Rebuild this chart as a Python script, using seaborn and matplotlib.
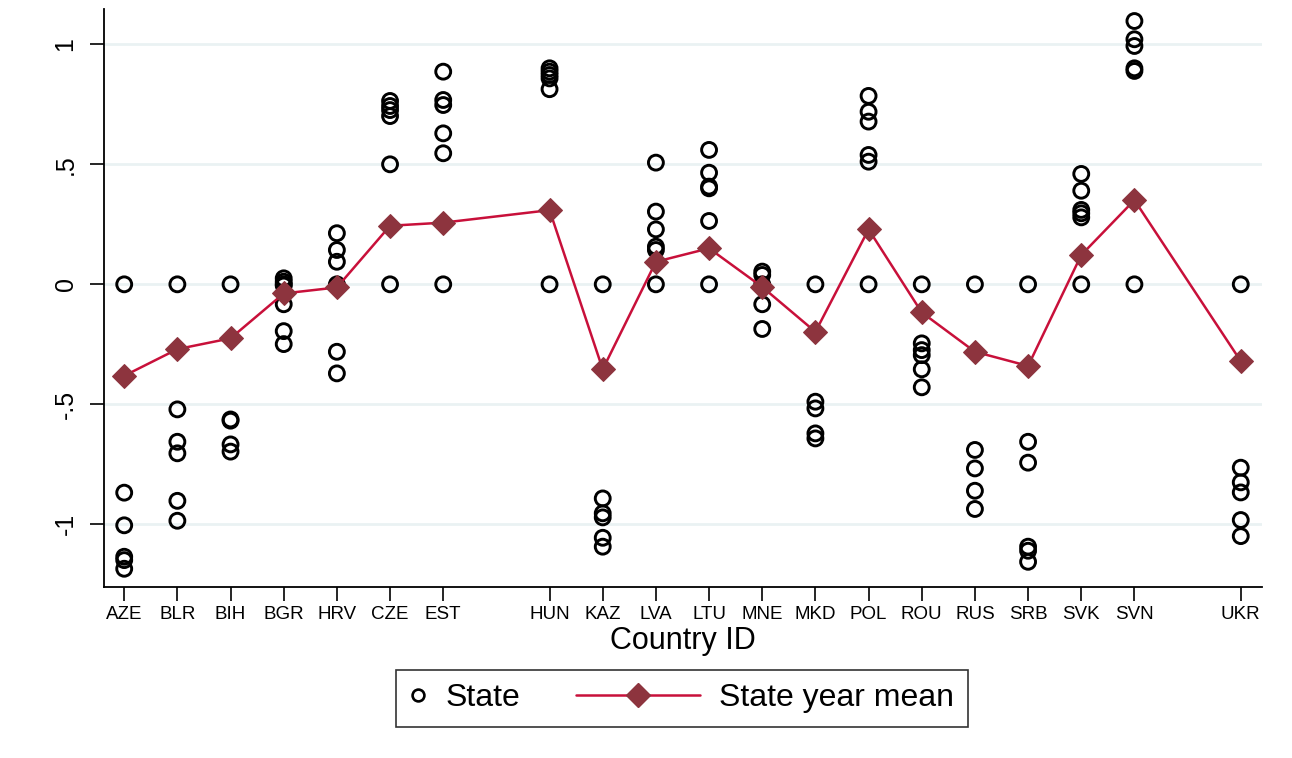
import numpy as np
import pandas as pd
import matplotlib
matplotlib.use("Agg")
import matplotlib.pyplot as plt
import seaborn as sns
from matplotlib.lines import Line2D
from matplotlib.legend_handler import HandlerLine2D

# Country codes and their numeric IDs (IDs 8 and 21 are absent)
countries = ["AZE", "BLR", "BIH", "BGR", "HRV", "CZE", "EST", "HUN", "KAZ", "LVA",
             "LTU", "MNE", "MKD", "POL", "ROU", "RUS", "SRB", "SVK", "SVN", "UKR"]
country_ids = [1, 2, 3, 4, 5, 6, 7, 9, 10, 11, 12, 13, 14, 15, 16, 17, 18, 19, 20, 22]

# State scores per country (several years each)
state_aze = [0.0, -0.868, -1.004, -1.135, -1.149, -1.185]
state_blr = [0.0, -0.521, -0.656, -0.704, -0.902, -0.985]
state_bih = [0.0, -0.563, -0.568, -0.667, -0.697]
state_bgr = [0.025, 0.011, 0.0, -0.005, -0.083, -0.195, -0.249]
state_hrv = [0.213, 0.143, 0.094, 0.0, -0.281, -0.371]
state_cze = [0.764, 0.743, 0.726, 0.701, 0.500, 0.0]
state_est = [0.886, 0.768, 0.747, 0.629, 0.546, 0.0]
state_hun = [0.900, 0.886, 0.872, 0.858, 0.813, 0.0]
state_kaz = [0.0, -0.892, -0.954, -0.971, -1.056, -1.093]
state_lva = [0.507, 0.303, 0.229, 0.157, 0.143, 0.0]
state_ltu = [0.560, 0.465, 0.407, 0.400, 0.264, 0.0]
state_mne = [0.053, 0.039, 0.0, -0.083, -0.186]
state_mkd = [0.0, -0.489, -0.517, -0.621, -0.642]
state_pol = [0.785, 0.719, 0.678, 0.539, 0.511, 0.0]
state_rou = [0.0, -0.246, -0.274, -0.295, -0.354, -0.429]
state_rus = [0.0, -0.690, -0.767, -0.860, -0.936]
state_srb = [0.0, -0.656, -0.743, -1.093, -1.110, -1.156]
state_svk = [0.460, 0.390, 0.310, 0.296, 0.279, 0.0]
state_svn = [1.097, 1.021, 0.993, 0.900, 0.889, 0.0]
state_ukr = [0.0, -0.764, -0.825, -0.867, -0.982, -1.049]

state_scores = [state_aze, state_blr, state_bih, state_bgr, state_hrv, state_cze,
                state_est, state_hun, state_kaz, state_lva, state_ltu, state_mne,
                state_mkd, state_pol, state_rou, state_rus, state_srb, state_svk,
                state_svn, state_ukr]

# Mean state score per country
state_year_mean = [-0.381, -0.270, -0.225, -0.038, -0.013, 0.244, 0.257, 0.309,
                   -0.354, 0.094, 0.150, -0.011, -0.198, 0.229, -0.117, -0.281,
                   -0.340, 0.122, 0.351, -0.320]

y_ticks = [-1, -0.5, 0, 0.5, 1]
y_tick_labels = ["-1", "-.5", "0", ".5", "1"]

# Long-format tables
points = pd.DataFrame({
    "country_id": np.repeat(country_ids, [len(s) for s in state_scores]),
    "state": np.concatenate(state_scores),
})
means = pd.DataFrame({"country_id": country_ids, "mean": state_year_mean})

sns.set_style("white")
plt.rcParams["font.family"] = ["Liberation Sans", "DejaVu Sans"]
plt.rcParams["text.color"] = "black"
plt.rcParams["axes.labelcolor"] = "black"
plt.rcParams["xtick.color"] = "black"
plt.rcParams["ytick.color"] = "black"


class CompactMarkerHandler(HandlerLine2D):
    """Legend handler whose key box is only as wide as the marker."""

    def __init__(self, width_frac=0.5, **kw):
        super().__init__(**kw)
        self.width_frac = width_frac

    def legend_artist(self, legend, orig_handle, fontsize, handlebox):
        handlebox.width = self.width_frac * fontsize
        return super().legend_artist(legend, orig_handle, fontsize, handlebox)


fig = plt.figure(figsize=(12.92, 7.58), dpi=100)
ax = fig.add_axes([0.0805, 0.2256, 0.8963, 0.7625])

grid_color = "#eaf2f3"
for yv in y_ticks:
    ax.axhline(yv, color=grid_color, lw=2.0, zorder=0)

line_red = "#c8103a"
diamond_red = "#8d343e"

sns.scatterplot(data=points, x="country_id", y="state", ax=ax, s=115,
                marker="o", color="black", zorder=3, legend=False)
coll = ax.collections[-1]
coll.set_facecolor("none")
coll.set_edgecolor("black")
coll.set_linewidth(2.1)

sns.lineplot(data=means, x="country_id", y="mean", ax=ax, color=line_red,
             lw=1.8, marker="D", markersize=12.5, markerfacecolor=diamond_red,
             markeredgecolor=diamond_red, zorder=4, legend=False)

ax.set_xlim(0.62, 22.4)
ax.set_ylim(-1.261, 1.147)
ax.set_xticks(country_ids)
ax.set_xticklabels(countries, fontsize=13.5)
ax.set_yticks(y_ticks)
ax.set_yticklabels(y_tick_labels, fontsize=18, rotation=90, va="center")
ax.tick_params(axis="both", direction="out", length=10, width=1.2, color="black",
               bottom=True, left=True)
ax.tick_params(axis="x", pad=4)
ax.tick_params(axis="y", pad=9)

for side in ["top", "right"]:
    ax.spines[side].set_visible(False)
for side in ["left", "bottom"]:
    ax.spines[side].set_color("black")
    ax.spines[side].set_linewidth(1.3)

ax.set_xlabel("Country ID", fontsize=22, labelpad=2)
ax.set_ylabel("")

state_key = Line2D([], [], ls="none", marker="o", markersize=8.5,
                   markerfacecolor="none", markeredgecolor="black",
                   markeredgewidth=1.9)
mean_key = Line2D([], [], color=line_red, lw=1.8, marker="D", markersize=12,
                  markerfacecolor=diamond_red, markeredgecolor=diamond_red)
leg = fig.legend([state_key, mean_key], ["State", "State year mean"], ncol=2,
                 fontsize=23, loc="center", bbox_to_anchor=(0.528, 0.079),
                 frameon=True, fancybox=False, edgecolor="black",
                 handlelength=3.9, columnspacing=1.75, handletextpad=0.6,
                 borderpad=0.42,
                 handler_map={state_key: CompactMarkerHandler(width_frac=0.5)})
leg.get_frame().set_linewidth(1.2)

fig.savefig("out.png", dpi=100, facecolor="white")
